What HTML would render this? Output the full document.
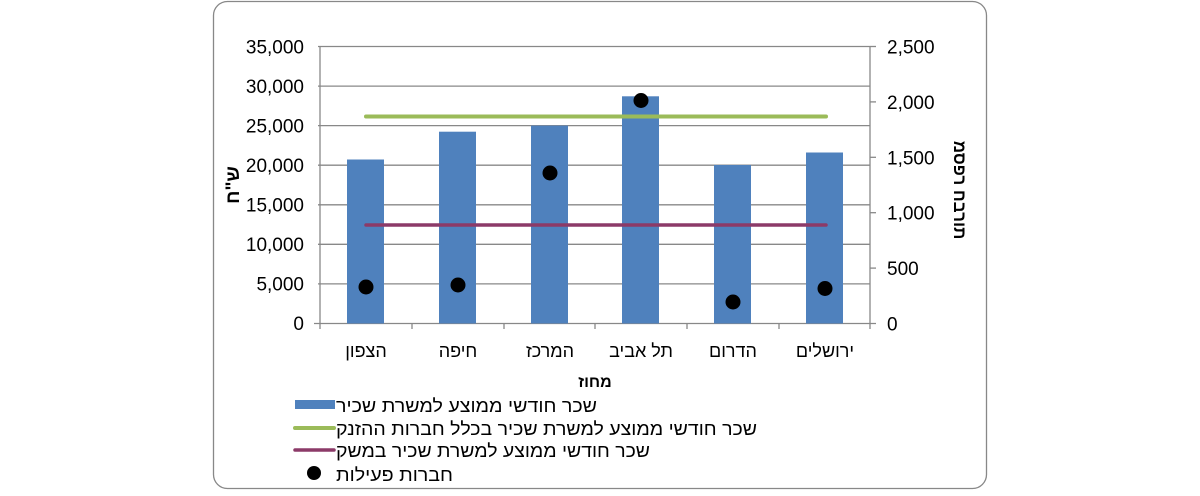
<!DOCTYPE html>
<html><head><meta charset="utf-8"><style>
html,body{margin:0;padding:0;background:#fff;}
svg text{font-family:"Liberation Sans","DejaVu Sans",sans-serif;fill:#000;}
</style></head><body>
<svg width="1200" height="491" xmlns="http://www.w3.org/2000/svg">
<rect x="213.5" y="1.5" width="773" height="487" rx="14" fill="#fff" stroke="#888" stroke-width="1.3"/>
<g stroke="#888" stroke-width="1.3">
<line x1="318" y1="46.5" x2="870" y2="46.5"/>
<line x1="318" y1="86.1" x2="870" y2="86.1"/>
<line x1="318" y1="125.6" x2="870" y2="125.6"/>
<line x1="318" y1="165.2" x2="870" y2="165.2"/>
<line x1="318" y1="204.8" x2="870" y2="204.8"/>
<line x1="318" y1="244.3" x2="870" y2="244.3"/>
<line x1="318" y1="283.9" x2="870" y2="283.9"/>
<line x1="314" y1="323.5" x2="876" y2="323.5"/>
<line x1="320" y1="46" x2="320" y2="329"/>
<line x1="870" y1="46" x2="870" y2="329"/>
<line x1="870" y1="46.5" x2="876" y2="46.5"/>
<line x1="870" y1="101.9" x2="876" y2="101.9"/>
<line x1="870" y1="157.3" x2="876" y2="157.3"/>
<line x1="870" y1="212.7" x2="876" y2="212.7"/>
<line x1="870" y1="268.1" x2="876" y2="268.1"/>
<line x1="412" y1="323" x2="412" y2="329"/>
<line x1="504" y1="323" x2="504" y2="329"/>
<line x1="595" y1="323" x2="595" y2="329"/>
<line x1="687" y1="323" x2="687" y2="329"/>
<line x1="779" y1="323" x2="779" y2="329"/>
</g>
<g fill="#4f81bd">
<rect x="347" y="159.5" width="37" height="164"/>
<rect x="439" y="131.7" width="37" height="191.8"/>
<rect x="531" y="125.6" width="37" height="197.9"/>
<rect x="622" y="96.3" width="37" height="227.2"/>
<rect x="714" y="165" width="37" height="158.5"/>
<rect x="806" y="152.5" width="37" height="171"/>
</g>
<line x1="366" y1="116.5" x2="826" y2="116.5" stroke="#9bbb59" stroke-width="4" stroke-linecap="round"/>
<line x1="366" y1="225" x2="826" y2="225" stroke="#8c3a68" stroke-width="3.5" stroke-linecap="round"/>
<g fill="#000">
<circle cx="366" cy="287" r="7.5"/>
<circle cx="458" cy="285" r="7.5"/>
<circle cx="550" cy="173" r="7.5"/>
<circle cx="641" cy="100.5" r="7.5"/>
<circle cx="733" cy="302" r="7.5"/>
<circle cx="825" cy="288.5" r="7.5"/>
</g>
<g font-size="19" text-anchor="end">
<text x="304" y="53.5">35,000</text>
<text x="304" y="93">30,000</text>
<text x="304" y="132.5">25,000</text>
<text x="304" y="172">20,000</text>
<text x="304" y="211.5">15,000</text>
<text x="304" y="251">10,000</text>
<text x="304" y="290.5">5,000</text>
<text x="304" y="330">0</text>
</g>
<g font-size="19" text-anchor="start">
<text x="887" y="53.5">2,500</text>
<text x="887" y="108.9">2,000</text>
<text x="887" y="164.3">1,500</text>
<text x="887" y="219.7">1,000</text>
<text x="887" y="275.1">500</text>
<text x="887" y="330.5">0</text>
</g>
<g font-size="18" text-anchor="middle">
<text x="366" y="357">הצפון</text>
<text x="458" y="357">חיפה</text>
<text x="550" y="357">המרכז</text>
<text x="641" y="357">תל אביב</text>
<text x="733" y="357">הדרום</text>
<text x="825" y="357">ירושלים</text>
</g>
<text x="595" y="387" font-size="16" font-weight="bold" text-anchor="middle">מחוז</text>
<text transform="translate(239,185) rotate(-90)" font-size="19" font-weight="bold" text-anchor="middle">ש"ח</text>
<text transform="translate(954,190) rotate(90)" font-size="17" font-weight="bold" text-anchor="middle" style="direction:ltr;unicode-bidi:bidi-override">מספר חברות</text>
<rect x="295" y="400" width="40" height="9" fill="#4f81bd"/>
<line x1="295" y1="428" x2="334" y2="428" stroke="#9bbb59" stroke-width="4" stroke-linecap="round"/>
<line x1="295" y1="450" x2="334" y2="450" stroke="#8c3a68" stroke-width="3.5" stroke-linecap="round"/>
<circle cx="314" cy="473" r="7" fill="#000"/>
<g font-size="18" text-anchor="start">
<text x="336" y="412" textLength="261" lengthAdjust="spacingAndGlyphs">שכר חודשי ממוצע למשרת שכיר</text>
<text x="336" y="435" textLength="421" lengthAdjust="spacingAndGlyphs">שכר חודשי ממוצע למשרת שכיר בכלל חברות ההזנק</text>
<text x="336" y="457" textLength="314" lengthAdjust="spacingAndGlyphs">שכר חודשי ממוצע למשרת שכיר במשק</text>
<text x="336" y="481" textLength="117" lengthAdjust="spacingAndGlyphs">חברות פעילות</text>
</g>
</svg>
</body></html>
